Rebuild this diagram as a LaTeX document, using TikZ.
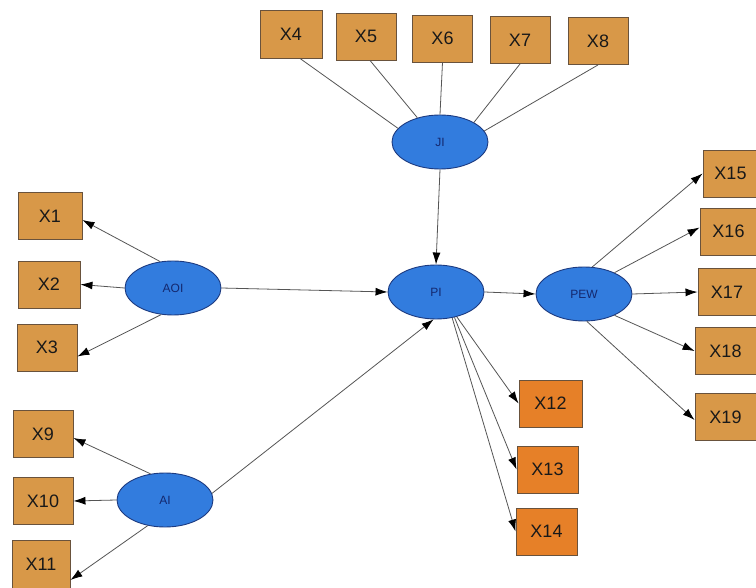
\documentclass[tikz,border=0pt]{standalone}
\usepackage{fontspec}
\setmainfont{Liberation Sans}
\usetikzlibrary{shapes.geometric,arrows.meta}
\definecolor{boxfill}{RGB}{216,152,72}
\definecolor{boxdark}{RGB}{230,128,40}
\definecolor{boxline}{RGB}{105,82,60}
\definecolor{ellfill}{RGB}{50,124,222}
\definecolor{ellline}{RGB}{28,58,128}
\definecolor{lbl}{RGB}{20,40,110}
\definecolor{edge}{RGB}{85,85,85}
\begin{document}
\begin{tikzpicture}[x=1pt,y=-1pt,
  ind/.style={draw=boxline, line width=0.9pt, fill=boxfill, minimum width=60pt, minimum height=47pt, inner sep=0pt, font=\fontsize{18}{18}\selectfont, text=black!90},
  indo/.style={ind, fill=boxdark},
  lat/.style={ellipse, draw=ellline, line width=0.9pt, fill=ellfill, minimum width=96pt, minimum height=54pt, inner sep=0pt, font=\fontsize{12}{12}\selectfont, text=lbl},
  link/.style={draw=edge, line width=0.8pt},
  arr/.style={link, -{Latex[length=12pt,width=8pt,color=black]}}
]
\fill[white] (0,0) rectangle (756,588);
\useasboundingbox (0,0) rectangle (756,588);

% latent variables
\node[lat] (JI)  at (440,142) {JI};
\node[lat] (PI)  at (436,292) {PI};
\node[lat] (PEW) at (584,294) {PEW};
\node[lat] (AOI) at (173,288) {AOI};
\node[lat] (AI)  at (165,500) {AI};

% top indicators
\node[ind, minimum width=62pt, minimum height=48pt] (X4) at (291,34) {X4};
\node[ind] (X5) at (366,36.5) {X5};
\node[ind] (X6) at (442.5,38.5) {X6};
\node[ind] (X7) at (520,40) {X7};
\node[ind] (X8) at (598,41) {X8};

% left indicators
\node[ind, minimum width=64pt] (X1) at (50,216) {X1};
\node[ind, minimum width=62pt] (X2) at (49,284.5) {X2};
\node[ind] (X3) at (47,347.5) {X3};
\node[ind] (X9) at (43,434) {X9};
\node[ind] (X10) at (43,501) {X10};
\node[ind, minimum width=58pt, minimum height=48pt] (X11) at (41,564) {X11};

% bottom indicators
\node[indo, minimum width=63pt] (X12) at (550.5,403.5) {X12};
\node[indo, minimum width=61pt] (X13) at (547.5,469.5) {X13};
\node[indo, minimum width=61pt] (X14) at (546.5,531.5) {X14};

% right indicators
\node[ind, minimum width=55pt] (X15) at (730.5,173.5) {X15};
\node[ind, minimum width=57pt] (X16) at (728.5,231.5) {X16};
\node[ind, minimum width=58pt] (X17) at (727,292) {X17};
\node[ind, minimum width=61pt] (X18) at (725.5,351) {X18};
\node[ind, minimum width=61pt] (X19) at (725.5,417) {X19};

% JI lines to indicators (no arrow heads)
\draw[link] ([xshift=9pt]X4.south) -- (JI.162);
\draw[link] ([xshift=4pt]X5.south) -- (JI.133);
\draw[link] (X6.south) -- (JI.north);
\draw[link] (X7.south) -- (JI.30);
\draw[link] (X8.south) -- (JI.14);

% AOI arrows
\draw[arr] (AOI.116) -- ([yshift=-4pt]X1.east);
\draw[arr] (AOI.west) -- (X2.east);
\draw[arr] (AOI.-114) -- ([yshift=-9pt]X3.east);

% AI arrows
\draw[arr] (AI.119) -- ([yshift=-4pt]X9.east);
\draw[arr] (AI.west) -- (X10.east);
\draw[arr] (AI.-124) -- ([yshift=-16pt]X11.east);

% structural paths
\draw[arr] (AOI.east) -- (PI.west);
\draw[arr] (AI.8) -- (PI.-95);
\draw[arr] (JI.south) -- (PI.north);
\draw[arr] (PI.east) -- (PEW.west);

% PI arrows
\draw[arr] (PI.-50) -- (X12.west);
\draw[arr] (PI.-54) -- (X13.west);
\draw[arr] (PI.-58) -- (X14.west);

% PEW arrows
\draw[arr] (PEW.73) -- (X15.west);
\draw[arr] (PEW.35) -- ([yshift=4pt]X16.west);
\draw[arr] (PEW.east) -- (X17.west);
\draw[arr] (PEW.-35) -- (X18.west);
\draw[arr] (PEW.-84) -- ([yshift=-3pt]X19.west);
\end{tikzpicture}
\end{document}
